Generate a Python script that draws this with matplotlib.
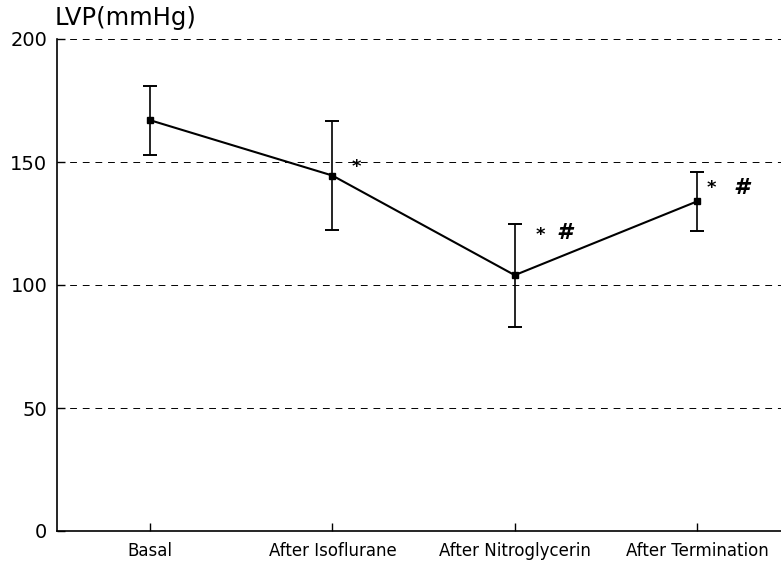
import matplotlib
matplotlib.use("Agg")
import matplotlib.pyplot as plt
import numpy as np

categories = ["Basal", "After Isoflurane", "After Nitroglycerin", "After Termination"]
lvp_mean = [167, 144.5, 104, 134]
lvp_sd = [14, 22, 21, 12]
yticks = [0, 50, 100, 150, 200]

# significance markers: (category position, y, text)
sig_marks = [(1.13, 148, "*"), (2.14, 120.5, "*"), (2.27, 121, "#"),
             (3.08, 139.5, "*"), (3.24, 139.5, "#")]

plt.rcParams['font.family'] = ['DejaVu Sans']

fig = plt.figure(figsize=(7.81, 5.62), dpi=100)
ax = fig.add_axes([57/781, 1 - 531/562, 1 - 57/781, (531 - 39)/562])

x = np.arange(len(categories))
for gy in yticks[1:]:
    ax.axhline(gy, color="black", lw=0.7, ls=(0, (7, 6)), zorder=1)

ax.errorbar(x, lvp_mean, yerr=lvp_sd, color="black", lw=1.5, elinewidth=1.2,
            capsize=5, capthick=1.4, marker="s", markersize=4, zorder=3)

for xi, yi, t in sig_marks:
    if t == "*":
        ax.text(xi, yi, t, fontsize=13, fontweight="bold", ha="center", va="center")
    else:
        ax.text(xi, yi, t, fontsize=16, fontweight="bold", style="italic", ha="center", va="center")

ax.set_xlim(-0.51, 3.46)
ax.set_ylim(0, 200)
ax.set_yticks(yticks)
ax.set_xticks(x)
ax.set_xticklabels(categories, fontsize=12)
ax.tick_params(axis="y", direction="in", length=6, width=1, labelsize=14, pad=7)
ax.tick_params(axis="x", direction="in", length=6, width=1, pad=8)
ax.spines["top"].set_visible(False)
ax.spines["right"].set_visible(False)
ax.spines["left"].set_linewidth(1.2)
ax.spines["bottom"].set_linewidth(1.2)

fig.text(55/781, 1 - 18/562, "LVP(mmHg)", fontsize=17.5, ha="left", va="center")

fig.savefig("out.png", dpi=100, facecolor="white")
